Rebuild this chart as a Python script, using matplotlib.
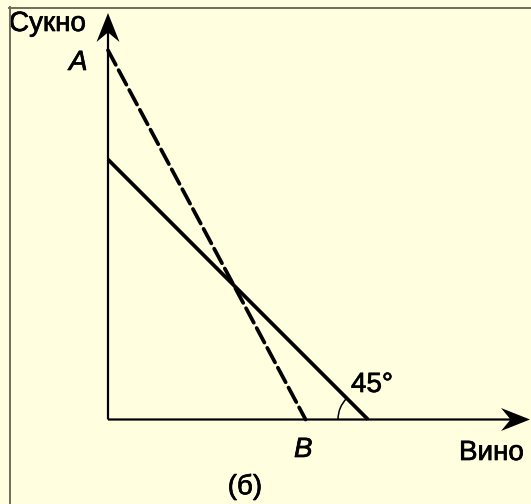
import matplotlib
matplotlib.use("Agg")
import matplotlib.pyplot as plt
import matplotlib.patheffects as pe
from matplotlib.patches import Arc
from matplotlib.lines import Line2D

# ---- data (economic units) ----
solid_x = [0, 10]          # 45° line: equal intercepts
solid_y = [10, 0]
dashed_x = [0, 7.6]        # A–B line
dashed_y = [14.2, 0]
point_labels = ["A", "B"]
axis_labels = ["Сукно", "Вино"]
angle_label = "45°"
caption = "(б)"

# ---- layout ----
W, H, DPI = 531, 504, 100
OX, OY, S = 108, 419.5, 26.0   # origin pixel, pixels per unit
BG = "#FFFFE0"
FONT = "Liberation Sans"

def P(px, py):
    return (px - OX) / S, (OY - py) / S

fig = plt.figure(figsize=(W / DPI, H / DPI), dpi=DPI, facecolor=BG)
ax = fig.add_axes([0, 0, 1, 1])
ax.set_facecolor(BG)
x0, y1 = P(0, 0)
x1, y0 = P(W, H)
ax.set_xlim(x0, x1)
ax.set_ylim(y0, y1)
ax.axis("off")

# frame lines (top and left)
fig.add_artist(Line2D([9.5 / W, 9.5 / W], [0, 1 - 7 / H], color="#6e6e5a", lw=1.4))
fig.add_artist(Line2D([9 / W, 1], [1 - 7.5 / H, 1 - 7.5 / H], color="#6e6e5a", lw=1.4))

# axes with arrowheads
xe, _ = P(530, OY)
_, ye = P(OX, 13)
ax.arrow(0, 0, xe, 0, width=2.2 / S, head_width=23 / S, head_length=29 / S,
         length_includes_head=True, overhang=0.3, color="black", lw=0)
ax.arrow(0, 0, 0, ye, width=2.2 / S, head_width=23 / S, head_length=29 / S,
         length_includes_head=True, overhang=0.3, color="black", lw=0)

# lines
ax.plot(solid_x, solid_y, color="black", lw=2.7, solid_capstyle="butt")
ax.plot(dashed_x, dashed_y, color="black", lw=2.7, dashes=(4.4, 1.6),
        dash_capstyle="round")

# angle arc at the solid line's x-intercept
r = 30 / S
ax.add_patch(Arc((solid_x[1], 0), 2 * r, 2 * r, theta1=135, theta2=180,
                 color="black", lw=1.1))

fs = 20
fx = [pe.withStroke(linewidth=0.5, foreground="black")]
kw = dict(fontsize=fs, family=FONT, path_effects=fx)
ax.text(*P(9, 31), axis_labels[0], ha="left", va="baseline", **kw)
ax.text(*P(459, 460), axis_labels[1], ha="left", va="baseline", **kw)
ax.text(*P(69, 70), point_labels[0], style="italic", ha="left", va="baseline", **kw)
ax.text(*P(294, 457), point_labels[1], style="italic", ha="left", va="baseline", **kw)
ax.text(*P(351, 392), angle_label, ha="left", va="baseline", **kw)
ax.text(*P(245, 487), caption, ha="center", va="center", **kw)

fig.savefig("out.png", dpi=DPI, facecolor=BG)
